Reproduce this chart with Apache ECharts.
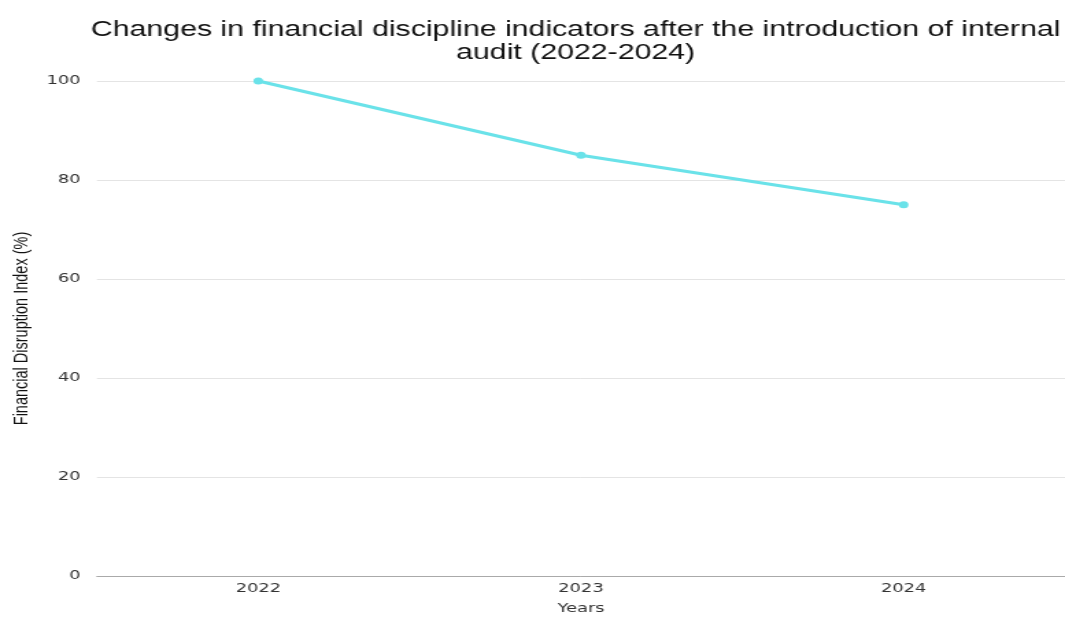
<!DOCTYPE html>
<html><head><meta charset="utf-8">
<script src="https://cdn.jsdelivr.net/npm/echarts@6/dist/echarts.min.js"></script>
<style>
html,body{margin:0;padding:0;background:#fff;overflow:hidden}
#wrap{width:1065px;height:620px;overflow:hidden}
#c{width:777px;height:620px;transform:scaleX(1.37066);transform-origin:0 0}
</style>
</head><body><div id="wrap"><div id="c"></div></div>
<script>
const categories = ['2022', '2023', '2024'];
const values = [100, 85, 75];
const yTicks = [0, 20, 40, 60, 80, 100];
const titleText = 'Changes in financial discipline indicators after the introduction of internal\naudit (2022-2024)';
const chart = echarts.init(document.getElementById('c'), null, {renderer: 'canvas', width: 777, height: 620});
chart.setOption({
  animation: false,
  backgroundColor: '#ffffff',
  title: {
    text: titleText,
    left: 415, top: 13, textAlign: 'center',
    textStyle: {fontFamily: 'Liberation Sans', fontSize: 22.1, fontWeight: 'normal', color: '#111', lineHeight: 23}
  },
  grid: {left: 64.2, right: 0, top: 81, bottom: 40, containLabel: false},
  xAxis: {
    type: 'category', data: categories, boundaryGap: true,
    name: 'Years', nameLocation: 'middle', nameGap: 26,
    nameTextStyle: {fontFamily: 'DejaVu Sans', fontSize: 13, color: '#333'},
    axisLine: {lineStyle: {color: '#aaa', width: 1}},
    axisTick: {show: false},
    axisLabel: {fontFamily: 'DejaVu Sans', fontSize: 13, color: '#333', margin: 6}
  },
  yAxis: {
    type: 'value', min: yTicks[0], max: yTicks[yTicks.length - 1], interval: yTicks[1] - yTicks[0],
    name: 'Financial Disruption Index (%)', nameLocation: 'middle', nameGap: 42,
    nameTextStyle: {fontFamily: 'Liberation Sans', fontSize: 14.5, color: '#111'},
    axisLine: {show: false}, axisTick: {show: false},
    axisLabel: {fontFamily: 'DejaVu Sans', fontSize: 13, color: '#333', margin: 12},
    splitLine: {lineStyle: {color: '#e4e4e4', width: 1}}
  },
  series: [{
    type: 'line', data: values,
    symbol: 'circle', symbolSize: 7,
    lineStyle: {color: '#6ae2e9', width: 3},
    itemStyle: {color: '#6ae2e9'}
  }]
});
</script></body></html>
